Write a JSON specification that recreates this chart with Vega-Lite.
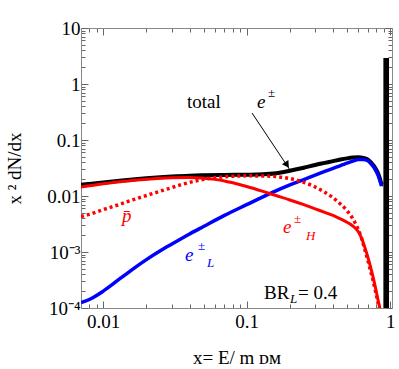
{
"$schema": "https://vega.github.io/schema/vega-lite/v6.json",
"width": 311, "height": 280,
"autosize": "none",
"padding": {"left": 81, "top": 28, "right": 7, "bottom": 61},
"background": "white",
"config": {
  "view": {"stroke": null},
  "axis": {"grid": false, "domainColor": "#888888", "tickColor": "#666666", "labelFont": "Liberation Serif", "labelFontSize": 19, "labelColor": "black", "titleFont": "Liberation Serif", "titleFontSize": 19, "titleFontWeight": "normal", "titleColor": "black", "labelOverlap": false, "labelFlush": false}
},
"datasets": {
  "curves": [
    {"s":"total","x":0.007,"y":0.0158},{"s":"total","x":0.008,"y":0.0164},{"s":"total","x":0.01,"y":0.0175},{"s":"total","x":0.013,"y":0.0188},{"s":"total","x":0.016,"y":0.0198},{"s":"total","x":0.02,"y":0.0208},{"s":"total","x":0.025,"y":0.0217},{"s":"total","x":0.03,"y":0.0223},{"s":"total","x":0.04,"y":0.0231},{"s":"total","x":0.05,"y":0.0235},{"s":"total","x":0.07,"y":0.0238},{"s":"total","x":0.1,"y":0.024},{"s":"total","x":0.13,"y":0.0244},{"s":"total","x":0.16,"y":0.0255},{"s":"total","x":0.2,"y":0.0283},{"s":"total","x":0.25,"y":0.032},{"s":"total","x":0.3,"y":0.0358},{"s":"total","x":0.35,"y":0.039},{"s":"total","x":0.4,"y":0.042},{"s":"total","x":0.45,"y":0.0448},{"s":"total","x":0.5,"y":0.047},{"s":"total","x":0.55,"y":0.0485},{"s":"total","x":0.6,"y":0.049},{"s":"total","x":0.65,"y":0.048},{"s":"total","x":0.7,"y":0.0445},{"s":"total","x":0.74,"y":0.039},{"s":"total","x":0.78,"y":0.033},{"s":"total","x":0.82,"y":0.026},{"s":"total","x":0.85,"y":0.02},{"s":"total","x":0.87,"y":0.0165},{"s":"total","x":0.895,"y":0.016},
    {"s":"L","x":0.007,"y":0.000125},{"s":"L","x":0.008,"y":0.000142},{"s":"L","x":0.01,"y":0.0002},{"s":"L","x":0.013,"y":0.00033},{"s":"L","x":0.016,"y":0.00049},{"s":"L","x":0.02,"y":0.00073},{"s":"L","x":0.025,"y":0.00105},{"s":"L","x":0.03,"y":0.00138},{"s":"L","x":0.04,"y":0.0021},{"s":"L","x":0.05,"y":0.00285},{"s":"L","x":0.07,"y":0.0045},{"s":"L","x":0.1,"y":0.007},{"s":"L","x":0.15,"y":0.0115},{"s":"L","x":0.2,"y":0.0158},{"s":"L","x":0.25,"y":0.0197},{"s":"L","x":0.3,"y":0.0236},{"s":"L","x":0.35,"y":0.0275},{"s":"L","x":0.4,"y":0.0312},{"s":"L","x":0.45,"y":0.035},{"s":"L","x":0.5,"y":0.0385},{"s":"L","x":0.55,"y":0.042},{"s":"L","x":0.6,"y":0.0447},{"s":"L","x":0.65,"y":0.045},{"s":"L","x":0.7,"y":0.0425},{"s":"L","x":0.74,"y":0.037},{"s":"L","x":0.78,"y":0.031},{"s":"L","x":0.82,"y":0.024},{"s":"L","x":0.85,"y":0.0185},{"s":"L","x":0.87,"y":0.015},
    {"s":"H","x":0.007,"y":0.0145},{"s":"H","x":0.008,"y":0.0152},{"s":"H","x":0.01,"y":0.0165},{"s":"H","x":0.013,"y":0.0179},{"s":"H","x":0.016,"y":0.019},{"s":"H","x":0.02,"y":0.0199},{"s":"H","x":0.025,"y":0.0207},{"s":"H","x":0.03,"y":0.0212},{"s":"H","x":0.04,"y":0.0215},{"s":"H","x":0.05,"y":0.0208},{"s":"H","x":0.06,"y":0.0198},{"s":"H","x":0.07,"y":0.0186},{"s":"H","x":0.08,"y":0.0172},{"s":"H","x":0.1,"y":0.0148},{"s":"H","x":0.13,"y":0.0121},{"s":"H","x":0.16,"y":0.0102},{"s":"H","x":0.2,"y":0.0085},{"s":"H","x":0.25,"y":0.007},{"s":"H","x":0.3,"y":0.0059},{"s":"H","x":0.35,"y":0.0051},{"s":"H","x":0.4,"y":0.0045},{"s":"H","x":0.45,"y":0.0039},{"s":"H","x":0.5,"y":0.0034},{"s":"H","x":0.55,"y":0.0029},{"s":"H","x":0.6,"y":0.0023},{"s":"H","x":0.63,"y":0.0018},{"s":"H","x":0.66,"y":0.0013},{"s":"H","x":0.7,"y":0.0008},{"s":"H","x":0.73,"y":0.00054},{"s":"H","x":0.76,"y":0.00036},{"s":"H","x":0.79,"y":0.00023},{"s":"H","x":0.82,"y":0.000145},{"s":"H","x":0.85,"y":0.000095},{"s":"H","x":0.87,"y":0.00006},
    {"s":"pbar","x":0.007,"y":0.0043},{"s":"pbar","x":0.008,"y":0.0047},{"s":"pbar","x":0.01,"y":0.0057},{"s":"pbar","x":0.013,"y":0.0071},{"s":"pbar","x":0.016,"y":0.0085},{"s":"pbar","x":0.02,"y":0.0102},{"s":"pbar","x":0.025,"y":0.0122},{"s":"pbar","x":0.03,"y":0.0141},{"s":"pbar","x":0.035,"y":0.016},{"s":"pbar","x":0.04,"y":0.0175},{"s":"pbar","x":0.05,"y":0.0198},{"s":"pbar","x":0.06,"y":0.0212},{"s":"pbar","x":0.07,"y":0.022},{"s":"pbar","x":0.08,"y":0.0225},{"s":"pbar","x":0.1,"y":0.0229},{"s":"pbar","x":0.13,"y":0.0228},{"s":"pbar","x":0.16,"y":0.0222},{"s":"pbar","x":0.2,"y":0.0205},{"s":"pbar","x":0.25,"y":0.0175},{"s":"pbar","x":0.3,"y":0.0145},{"s":"pbar","x":0.35,"y":0.0117},{"s":"pbar","x":0.4,"y":0.0093},{"s":"pbar","x":0.45,"y":0.0072},{"s":"pbar","x":0.5,"y":0.0055},{"s":"pbar","x":0.55,"y":0.0039},{"s":"pbar","x":0.6,"y":0.0025},{"s":"pbar","x":0.63,"y":0.0018},{"s":"pbar","x":0.66,"y":0.0012},{"s":"pbar","x":0.7,"y":0.0007},{"s":"pbar","x":0.73,"y":0.00046},{"s":"pbar","x":0.76,"y":0.00031},{"s":"pbar","x":0.79,"y":0.0002},{"s":"pbar","x":0.82,"y":0.00013},{"s":"pbar","x":0.85,"y":0.00008}
  ],
  "spike": [{"s":"total","x":0.897,"x2":0.982,"y":0.00001,"y2":2.9}],
  "arrow": [{"s":"total","x":0.109,"y":0.303,"x2":0.2003,"y2":0.0291}],
  "head": [{"s":"total","x":0.191,"y":0.0358}],
  "labels": [
    {"s":"total","part":"main","t":"total","x":0.0384,"y":0.373},
    {"s":"total","part":"ital","t":"e","x":0.118,"y":0.373},
    {"s":"total","part":"sup","t":"±","x":0.1408,"y":0.586},
    {"s":"pbar","part":"ital","t":"p̄","x":0.0135,"y":0.00343},
    {"s":"L","part":"ital","t":"e","x":0.0371,"y":0.00069},
    {"s":"L","part":"sup","t":"±","x":0.0457,"y":0.001086},
    {"s":"L","part":"sub","t":"L","x":0.0529,"y":0.00054},
    {"s":"H","part":"ital","t":"e","x":0.179,"y":0.00218},
    {"s":"H","part":"sup","t":"±","x":0.2137,"y":0.0033},
    {"s":"H","part":"sub","t":"H","x":0.259,"y":0.00164},
    {"s":"note","part":"main","t":"BR","x":0.132,"y":0.000145},
    {"s":"note","part":"sub","t":"L","x":0.2004,"y":0.000123},
    {"s":"note","part":"main","t":"= 0.4","x":0.2279,"y":0.000145}
  ]
},
"resolve": {"axis": {"x": "independent", "y": "independent"}},
"layer": [
  {
    "data": {"name": "curves"},
    "transform": [{"filter": "datum.s=='total'"}],
    "mark": {"type": "line", "strokeWidth": 4, "clip": true, "color": "black", "interpolate": "monotone"},
    "encoding": {
      "x": {"field": "x", "type": "quantitative", "scale": {"type": "log", "domain": [0.007, 1.03], "nice": false},
        "axis": {"orient": "bottom",
          "values": [0.007,0.008,0.009,0.01,0.02,0.03,0.04,0.05,0.06,0.07,0.08,0.09,0.1,0.2,0.3,0.4,0.5,0.6,0.7,0.8,0.9,1],
          "labelExpr": "datum.value==0.01?'0.01':datum.value==0.1?'0.1':datum.value==1?'1':''",
          "tickSize": {"condition": {"test": "datum.value==0.01||datum.value==0.1||datum.value==1", "value": -7}, "value": -4},
          "labelPadding": 11, "title": "x= E/ m ᴅᴍ", "titlePadding": 14}},
      "y": {"field": "y", "type": "quantitative", "scale": {"type": "log", "domain": [0.0001, 10], "nice": false},
        "axis": {"orient": "left",
          "values": [0.0001,0.0002,0.0003,0.0004,0.0005,0.0006,0.0007,0.0008,0.0009,0.001,0.002,0.003,0.004,0.005,0.006,0.007,0.008,0.009,0.01,0.02,0.03,0.04,0.05,0.06,0.07,0.08,0.09,0.1,0.2,0.3,0.4,0.5,0.6,0.7,0.8,0.9,1,2,3,4,5,6,7,8,9,10],
          "labelExpr": "datum.value==10?'10':datum.value==1?'1':datum.value==0.1?'0.1':datum.value==0.01?'0.01':datum.value==0.001?'10⁻³':datum.value==0.0001?'10⁻⁴':''",
          "tickSize": {"condition": {"test": "datum.value==10||datum.value==1||datum.value==0.1||datum.value==0.01||datum.value==0.001||datum.value==0.0001", "value": -7}, "value": -4},
          "labelPadding": 8, "title": "x ² dN/dx", "titlePadding": 22}}
    }
  },
  {
    "data": {"name": "curves"},
    "transform": [{"filter": "datum.s=='L'"}],
    "mark": {"type": "line", "strokeWidth": 3.5, "clip": true, "color": "#0000ff", "interpolate": "monotone"},
    "encoding": {
      "x": {"field": "x", "type": "quantitative", "scale": {"type": "log", "domain": [0.007, 1.03], "nice": false}, "axis": null},
      "y": {"field": "y", "type": "quantitative", "scale": {"type": "log", "domain": [0.0001, 10], "nice": false}, "axis": null}
    }
  },
  {
    "data": {"name": "curves"},
    "transform": [{"filter": "datum.s=='H'"}],
    "mark": {"type": "line", "strokeWidth": 3, "clip": true, "color": "#ff0000", "interpolate": "monotone"},
    "encoding": {
      "x": {"field": "x", "type": "quantitative", "scale": {"type": "log", "domain": [0.007, 1.03], "nice": false}, "axis": null},
      "y": {"field": "y", "type": "quantitative", "scale": {"type": "log", "domain": [0.0001, 10], "nice": false}, "axis": null}
    }
  },
  {
    "data": {"name": "curves"},
    "transform": [{"filter": "datum.s=='pbar'"}],
    "mark": {"type": "line", "strokeWidth": 3.5, "clip": true, "color": "#ff0000", "strokeDash": [3, 3], "strokeCap": "butt", "interpolate": "monotone"},
    "encoding": {
      "x": {"field": "x", "type": "quantitative", "scale": {"type": "log", "domain": [0.007, 1.03], "nice": false}, "axis": null},
      "y": {"field": "y", "type": "quantitative", "scale": {"type": "log", "domain": [0.0001, 10], "nice": false}, "axis": null}
    }
  },
  {
    "data": {"name": "spike"},
    "mark": {"type": "rect", "clip": true, "color": "black"},
    "encoding": {
      "x": {"field": "x", "type": "quantitative", "scale": {"type": "log", "domain": [0.007, 1.03], "nice": false}, "axis": null},
      "x2": {"field": "x2"},
      "y": {"field": "y", "type": "quantitative", "scale": {"type": "log", "domain": [0.0001, 10], "nice": false}, "axis": null},
      "y2": {"field": "y2"}
    }
  },
  {
    "data": {"name": "arrow"},
    "mark": {"type": "rule", "color": "black", "strokeWidth": 1},
    "encoding": {
      "x": {"field": "x", "type": "quantitative", "scale": {"type": "log", "domain": [0.007, 1.03], "nice": false}, "axis": null},
      "x2": {"field": "x2"},
      "y": {"field": "y", "type": "quantitative", "scale": {"type": "log", "domain": [0.0001, 10], "nice": false}, "axis": null},
      "y2": {"field": "y2"}
    }
  },
  {
    "data": {"name": "head"},
    "mark": {"type": "point", "shape": "triangle-up", "angle": 146, "filled": true, "color": "black", "size": 60, "opacity": 1},
    "encoding": {
      "x": {"field": "x", "type": "quantitative", "scale": {"type": "log", "domain": [0.007, 1.03], "nice": false}, "axis": null},
      "y": {"field": "y", "type": "quantitative", "scale": {"type": "log", "domain": [0.0001, 10], "nice": false}, "axis": null}
    }
  },
  {
    "data": {"name": "labels"},
    "transform": [{"filter": "datum.part=='main'"}],
    "mark": {"type": "text", "align": "left", "baseline": "alphabetic", "font": "Liberation Serif", "fontSize": 19},
    "encoding": {
      "x": {"field": "x", "type": "quantitative", "scale": {"type": "log", "domain": [0.007, 1.03], "nice": false}, "axis": null},
      "y": {"field": "y", "type": "quantitative", "scale": {"type": "log", "domain": [0.0001, 10], "nice": false}, "axis": null},
      "text": {"field": "t"},
      "color": {"field": "s", "type": "nominal", "scale": {"domain": ["total","L","H","pbar","note"], "range": ["black","#0000ff","#ff0000","#ff0000","black"]}, "legend": null}
    }
  },
  {
    "data": {"name": "labels"},
    "transform": [{"filter": "datum.part=='ital'"}],
    "mark": {"type": "text", "align": "left", "baseline": "alphabetic", "font": "Liberation Serif", "fontSize": 19, "fontStyle": "italic"},
    "encoding": {
      "x": {"field": "x", "type": "quantitative", "scale": {"type": "log", "domain": [0.007, 1.03], "nice": false}, "axis": null},
      "y": {"field": "y", "type": "quantitative", "scale": {"type": "log", "domain": [0.0001, 10], "nice": false}, "axis": null},
      "text": {"field": "t"},
      "color": {"field": "s", "type": "nominal", "scale": {"domain": ["total","L","H","pbar","note"], "range": ["black","#0000ff","#ff0000","#ff0000","black"]}, "legend": null}
    }
  },
  {
    "data": {"name": "labels"},
    "transform": [{"filter": "datum.part=='sup'"}],
    "mark": {"type": "text", "align": "left", "baseline": "alphabetic", "font": "Liberation Serif", "fontSize": 13},
    "encoding": {
      "x": {"field": "x", "type": "quantitative", "scale": {"type": "log", "domain": [0.007, 1.03], "nice": false}, "axis": null},
      "y": {"field": "y", "type": "quantitative", "scale": {"type": "log", "domain": [0.0001, 10], "nice": false}, "axis": null},
      "text": {"field": "t"},
      "color": {"field": "s", "type": "nominal", "scale": {"domain": ["total","L","H","pbar","note"], "range": ["black","#0000ff","#ff0000","#ff0000","black"]}, "legend": null}
    }
  },
  {
    "data": {"name": "labels"},
    "transform": [{"filter": "datum.part=='sub'"}],
    "mark": {"type": "text", "align": "left", "baseline": "alphabetic", "font": "Liberation Serif", "fontSize": 13, "fontStyle": "italic"},
    "encoding": {
      "x": {"field": "x", "type": "quantitative", "scale": {"type": "log", "domain": [0.007, 1.03], "nice": false}, "axis": null},
      "y": {"field": "y", "type": "quantitative", "scale": {"type": "log", "domain": [0.0001, 10], "nice": false}, "axis": null},
      "text": {"field": "t"},
      "color": {"field": "s", "type": "nominal", "scale": {"domain": ["total","L","H","pbar","note"], "range": ["black","#0000ff","#ff0000","#ff0000","black"]}, "legend": null}
    }
  },
  {
    "data": {"name": "curves"},
    "mark": {"type": "point", "opacity": 0},
    "encoding": {
      "x": {"field": "x", "type": "quantitative", "scale": {"type": "log", "domain": [0.007, 1.03], "nice": false},
        "axis": {"orient": "top", "labels": false, "title": null,
          "values": [0.007,0.008,0.009,0.01,0.02,0.03,0.04,0.05,0.06,0.07,0.08,0.09,0.1,0.2,0.3,0.4,0.5,0.6,0.7,0.8,0.9,1],
          "tickSize": {"condition": {"test": "datum.value==0.01||datum.value==0.1||datum.value==1", "value": -7}, "value": -4}}},
      "y": {"field": "y", "type": "quantitative", "scale": {"type": "log", "domain": [0.0001, 10], "nice": false},
        "axis": {"orient": "right", "labels": false, "title": null,
          "values": [0.0001,0.0002,0.0003,0.0004,0.0005,0.0006,0.0007,0.0008,0.0009,0.001,0.002,0.003,0.004,0.005,0.006,0.007,0.008,0.009,0.01,0.02,0.03,0.04,0.05,0.06,0.07,0.08,0.09,0.1,0.2,0.3,0.4,0.5,0.6,0.7,0.8,0.9,1,2,3,4,5,6,7,8,9,10],
          "tickSize": {"condition": {"test": "datum.value==10||datum.value==1||datum.value==0.1||datum.value==0.01||datum.value==0.001||datum.value==0.0001", "value": -7}, "value": -4}}}
    }
  }
]
}
